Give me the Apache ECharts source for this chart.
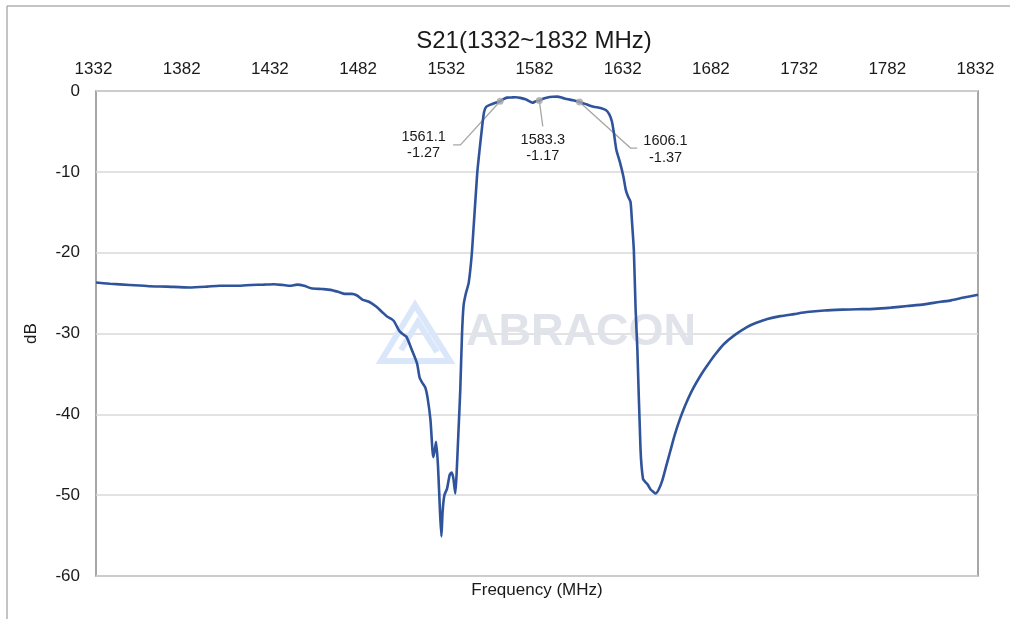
<!DOCTYPE html>
<html><head><meta charset="utf-8">
<script src="https://cdn.jsdelivr.net/npm/echarts@6/dist/echarts.min.js"></script>
<style>html,body{margin:0;padding:0;background:#fff}#c{width:1010px;height:619px}</style>
</head><body><div id="c"></div>
<script>
var freq = [1332,1340,1351,1362,1372,1385,1395,1402,1412,1420,1427,1433,1438,1442,1446,1450,1454,1460,1465,1470,1473,1477,1480,1483,1487,1491,1494,1497,1499.5,1501,1504,1506,1508,1511,1514,1515.5,1517,1518.7,1520,1521.6,1523.2,1524,1524.8,1525.9,1527,1527.8,1528.5,1529.5,1531,1532.5,1533.5,1534.5,1535.7,1536.5,1537.5,1538.5,1539.5,1540.4,1541.5,1543.3,1545.2,1548.1,1550.9,1552,1553.3,1556.6,1558.5,1561.1,1563,1565,1567.5,1570,1572.5,1575.5,1578,1579.5,1581,1583.3,1585.5,1588,1591,1593.5,1596.5,1599,1602.5,1606.1,1610,1614,1618,1621,1623,1624.5,1625.6,1627,1629,1631,1632.3,1633.5,1635,1635.8,1636.9,1637.9,1638.9,1640.7,1642.1,1643.5,1644.8,1646.4,1648,1649.2,1651,1653,1655,1657.5,1660,1663,1666,1670,1675,1679,1683,1688,1694,1701,1706,1712.6,1720,1727.7,1735,1744.8,1755,1763.7,1773,1782.6,1792,1801.5,1810,1816.7,1824,1832];
var s21 = [-23.7,-23.85,-24.0,-24.15,-24.2,-24.3,-24.2,-24.1,-24.1,-24.0,-23.95,-23.9,-24.0,-24.1,-23.95,-24.1,-24.4,-24.5,-24.6,-24.9,-25.1,-25.1,-25.3,-25.8,-26.1,-26.7,-27.3,-27.9,-28.2,-28.5,-29.7,-30.1,-30.4,-32.0,-33.7,-35.5,-36.1,-36.7,-38.0,-40.7,-45.3,-44.5,-43.4,-46.5,-52.0,-55.1,-52.0,-50.0,-49.2,-47.5,-47.2,-47.8,-49.8,-47.0,-42.0,-37.0,-30.0,-26.5,-25.2,-23.7,-19.7,-10.2,-4.4,-2.6,-1.94,-1.6,-1.45,-1.27,-1.0,-0.82,-0.8,-0.78,-0.85,-1.03,-1.3,-1.45,-1.3,-1.17,-0.95,-0.8,-0.72,-0.7,-0.85,-1.0,-1.15,-1.37,-1.65,-1.94,-2.1,-2.35,-2.9,-3.8,-5.2,-7.3,-8.8,-10.6,-12.2,-13.0,-13.7,-16.0,-19.7,-27.0,-32.0,-44.4,-48.0,-48.4,-48.7,-49.3,-49.6,-49.8,-49.3,-48.2,-46.6,-44.6,-42.6,-40.6,-38.9,-37.0,-35.1,-33.8,-32.6,-31.3,-30.2,-29.2,-28.7,-28.2,-27.85,-27.6,-27.35,-27.15,-27.05,-27.0,-26.95,-26.8,-26.6,-26.4,-26.1,-25.9,-25.55,-25.2];
var xTicks = [1332,1382,1432,1482,1532,1582,1632,1682,1732,1782,1832];
var yTicks = [0,-10,-20,-30,-40,-50,-60];
var markFreq = [1561.1, 1583.3, 1606.1];
var markVal = [-1.27, -1.17, -1.37];

var FONT = 'Liberation Sans, Arial, sans-serif';
var chart = echarts.init(document.getElementById('c'), null, {renderer: 'canvas'});
var lineData = freq.map(function (f, i) { return [f, s21[i]]; });
var markData = markFreq.map(function (f, i) { return [f, markVal[i]]; });

var option = {
  animation: false,
  backgroundColor: '#fff',
  grid: {left: 96, top: 91, right: 32, bottom: 43, show: true, borderColor: '#8a8a8a', borderWidth: 1.5, backgroundColor: 'transparent'},
  xAxis: {
    type: 'value', position: 'top', min: xTicks[0], max: xTicks[xTicks.length - 1],
    axisLine: {show: false}, axisTick: {show: false}, splitLine: {show: false},
    axisLabel: {customValues: xTicks, margin: 13, fontFamily: FONT, fontSize: 17, color: '#1a1a1a',
      padding: [0, 5, 0, 0],
      formatter: function (v) { return String(v); }}
  },
  yAxis: {
    type: 'value', min: yTicks[yTicks.length - 1], max: yTicks[0], interval: 10,
    name: 'dB', nameLocation: 'middle', nameGap: 56, nameRotate: 90,
    nameTextStyle: {fontFamily: FONT, fontSize: 17, color: '#1a1a1a'},
    axisLine: {show: false}, axisTick: {show: false},
    splitLine: {show: true, lineStyle: {color: '#d9d9d9', width: 1.5}},
    axisLabel: {margin: 16, fontFamily: FONT, fontSize: 17, color: '#1a1a1a'}
  },
  series: [
    {type: 'line', data: lineData, showSymbol: false, smooth: 0.2, z: 3,
     lineStyle: {color: '#2f549b', width: 2.6}},
    {type: 'scatter', data: markData, symbolSize: 7, z: 4,
     itemStyle: {color: '#a6a6a6'}}
  ]
};
chart.setOption(option);

function buildGraphics() {
  var g = [];
  g.push({type: 'rect', shape: {x: 7, y: 6, width: 1010, height: 620}, style: {fill: 'none', stroke: '#8a8a8a', lineWidth: 1}, z: 0, silent: true});
  g.push({type: 'text', x: 534, y: 41, style: {text: 'S21(1332~1832 MHz)', fontFamily: FONT, fontSize: 24, fill: '#1a1a1a', textAlign: 'center', verticalAlign: 'middle'}, z: 5, silent: true});
  var wm = {stroke: '#dae7fb', fill: 'none', lineWidth: 6};
  g.push({type: 'polygon', shape: {points: [[415, 305], [381, 361], [450, 361]]}, style: wm, z: 1, silent: true});
  g.push({type: 'polyline', shape: {points: [[401, 350], [418, 322], [437, 352]]}, style: wm, z: 1, silent: true});
  g.push({type: 'text', x: 466, y: 333, style: {text: 'ABRACON', fontFamily: FONT, fontSize: 45, fontWeight: 'bold', fill: '#e1e3ea', verticalAlign: 'middle', textAlign: 'left'}, z: 1, silent: true});
  g.push({type: 'text', x: 537, y: 590, style: {text: 'Frequency (MHz)', fontFamily: FONT, fontSize: 17, fill: '#1a1a1a', textAlign: 'center', verticalAlign: 'middle'}, z: 5, silent: true});
  var cfg = [
    {pts: [[0, 0], [-39.7, 43.7], [-47, 43.7]], tx: -76.5, ty: 35.5},
    {pts: [[0, 0], [3.5, 26]], tx: 3.5, ty: 39.5},
    {pts: [[0, 0], [51, 46], [57.7, 46]], tx: 86, ty: 39}
  ];
  markData.forEach(function (d, i) {
    var p = chart.convertToPixel({gridIndex: 0}, d);
    var c = cfg[i];
    g.push({type: 'polyline', shape: {points: c.pts.map(function (q) { return [p[0] + q[0], p[1] + q[1]]; })}, style: {stroke: '#a6a6a6', lineWidth: 1.3, fill: 'none'}, z: 3, silent: true});
    g.push({type: 'text', x: p[0] + c.tx, y: p[1] + c.ty, style: {text: markFreq[i].toFixed(1), fontFamily: FONT, fontSize: 14.5, fill: '#1a1a1a', textAlign: 'center', verticalAlign: 'middle'}, z: 5, silent: true});
    g.push({type: 'text', x: p[0] + c.tx, y: p[1] + c.ty + 16.5, style: {text: markVal[i].toFixed(2), fontFamily: FONT, fontSize: 14.5, fill: '#1a1a1a', textAlign: 'center', verticalAlign: 'middle'}, z: 5, silent: true});
  });
  chart.setOption({graphic: g});
}
buildGraphics();
</script></body></html>
